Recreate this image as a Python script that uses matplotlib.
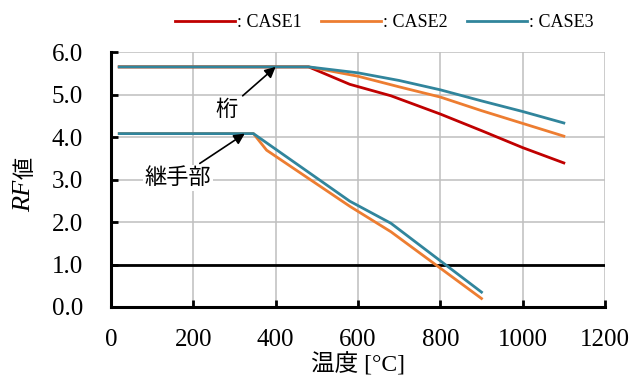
"""Recreate RF value vs temperature chart."""

from __future__ import annotations

import matplotlib

matplotlib.use("Agg")
import matplotlib.pyplot as plt

# upper group (桁)
girder_temps_case1 = [20, 480, 580, 680, 800, 900, 1000, 1100]
girder_rf_case1 = [5.65, 5.65, 5.24, 4.97, 4.54, 4.15, 3.75, 3.39]
girder_temps_case2 = [20, 480, 600, 700, 800, 900, 1000, 1100]
girder_rf_case2 = [5.65, 5.65, 5.43, 5.18, 4.94, 4.62, 4.32, 4.02]
girder_temps_case3 = [20, 480, 600, 700, 800, 900, 1000, 1100]
girder_rf_case3 = [5.65, 5.65, 5.51, 5.33, 5.11, 4.85, 4.60, 4.33]

# lower group (継手部)
joint_temps_case2 = [20, 346, 378, 580, 680, 900]
joint_rf_case2 = [4.08, 4.08, 3.69, 2.37, 1.77, 0.20]
joint_temps_case3 = [20, 346, 580, 680, 900]
joint_rf_case3 = [4.08, 4.08, 2.49, 1.97, 0.35]

case_labels = [": CASE1", ": CASE2", ": CASE3"]
case_colors = ["#C00000", "#ED7D31", "#31859C"]

x_ticks = [0, 200, 400, 600, 800, 1000, 1200]
y_ticks = [0.0, 1.0, 2.0, 3.0, 4.0, 5.0, 6.0]
limit_rf = 1.0


def main() -> None:
    """Draw the chart and save it as out.png."""
    serif_first = ["Liberation Serif", "Noto Sans CJK JP"]
    cjk = ["Noto Sans CJK JP", "Liberation Serif"]
    plt.rcParams["font.family"] = serif_first

    figure = plt.figure(figsize=(6.39, 3.85), dpi=100)
    axis = figure.add_axes([0.1737, 0.2026, 0.7731, 0.6623])

    axis.grid(True, color="#BFBFBF", linewidth=1.1)
    axis.set_axisbelow(True)
    axis.axhline(limit_rf, color="black", linewidth=2.0, zorder=2)

    lw = 2.0
    red, orange, teal = case_colors
    axis.plot(girder_temps_case1, girder_rf_case1, color=red, lw=lw, label=case_labels[0], zorder=3)
    axis.plot(girder_temps_case2, girder_rf_case2, color=orange, lw=lw, label=case_labels[1], zorder=4)
    axis.plot(girder_temps_case3, girder_rf_case3, color=teal, lw=lw, label=case_labels[2], zorder=5)
    axis.plot(joint_temps_case2, joint_rf_case2, color=orange, lw=lw, zorder=4)
    axis.plot(joint_temps_case3, joint_rf_case3, color=teal, lw=lw, zorder=5)

    axis.set_xlim(0, 1200)
    axis.set_ylim(0, 6)
    axis.set_xticks(x_ticks)
    axis.set_yticks(y_ticks, labels=[f"{v:.1f}" for v in y_ticks])
    axis.tick_params(direction="in", length=5, width=2, labelsize=18)
    axis.tick_params(axis="x", pad=16)
    axis.tick_params(axis="y", pad=20)
    for side in ("top", "right"):
        axis.spines[side].set_visible(False)
    for side in ("left", "bottom"):
        axis.spines[side].set_linewidth(2.2)

    arrow = dict(arrowstyle="-|>", color="black", lw=1.2, mutation_scale=16, shrinkA=2, shrinkB=0)
    axis.annotate("桁", xy=(400, 5.65), xytext=(281, 4.64), ha="center", va="center",
                  fontsize=16, family=cjk, arrowprops=arrow, zorder=6)
    axis.annotate("継手部", xy=(325, 4.08), xytext=(163, 3.04), ha="center", va="center",
                  fontsize=16, family=cjk, arrowprops=arrow, zorder=6,
                  bbox=dict(facecolor="white", edgecolor="none", pad=1))

    axis.set_xlabel("温度 [°C]", fontsize=17, family=serif_first, labelpad=1)
    axis.text(-0.175, 0.437, "RF", transform=axis.transAxes, rotation=90, ha="center", va="center",
              fontsize=19, style="italic", family="Liberation Serif")
    axis.text(-0.173, 0.545, "値", transform=axis.transAxes, rotation=90, ha="center", va="center",
              fontsize=16, family=cjk)

    figure.legend(loc="upper right", bbox_to_anchor=(0.952, 1.0), frameon=False, ncol=3,
                  fontsize=13, handlelength=3.3, handletextpad=0.15, columnspacing=1.05,
                  borderpad=0.3)

    figure.savefig("out.png", dpi=100)
    plt.close(figure)


if __name__ == "__main__":
    main()
